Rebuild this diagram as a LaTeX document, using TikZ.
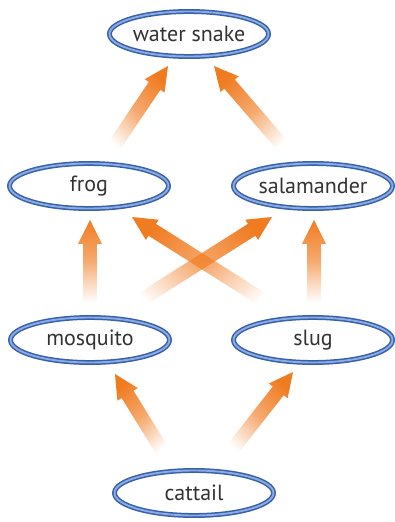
\documentclass[tikz,border=0pt]{standalone}
\usepackage{fontspec}
\setmainfont{PT Sans}
\usetikzlibrary{shapes.geometric,shadows,fadings,calc}
\definecolor{arrowor}{HTML}{F07C22}
\definecolor{ringdark}{HTML}{3460AC}
\definecolor{ringlight}{HTML}{8EABE0}
\definecolor{txt}{HTML}{333333}
\tikzfading[name=arrowfade, bottom color=transparent!100, top color=transparent!0, middle color=transparent!35]
\newcommand\fatarrow[2]{%
  \path let \p1=($(#2)-(#1)$), \n1={atan2(\y1,\x1)} in \pgfextra{\xdef\myang{\n1}};
  \pgfmathsetmacro\myrot{\myang-90}%
  \fill[arrowor, path fading=arrowfade, fading angle=\myrot]
    ($(#1)!7pt!90:(#2)$) -- ($($(#2)!24pt!(#1)$)!7pt!-90:(#1)$)
    -- ($($(#2)!24pt!(#1)$)!12pt!-90:(#1)$) -- (#2)
    -- ($($(#2)!24pt!(#1)$)!12pt!90:(#1)$) -- ($($(#2)!24pt!(#1)$)!7pt!90:(#1)$)
    -- ($(#1)!7pt!-90:(#2)$) -- cycle;
}
\tikzset{
  species/.style={ellipse, draw=ringdark, line width=1.5pt, double=ringlight,
    double distance=1.9pt, fill=white, minimum width=159pt, minimum height=45pt,
    inner sep=0pt, text=txt, font=\fontsize{22}{26}\selectfont,
    drop shadow={shadow xshift=0.8pt, shadow yshift=-2pt, opacity=0.4, fill=black!60}}
}
\begin{document}
\begin{tikzpicture}[x=1pt, y=-1pt]
\useasboundingbox (0,0) rectangle (395,522);
\node[species] (ws) at (189,34) {water snake};
\node[species] (frog) at (89,186) {frog};
\node[species] (sal) at (313,186) {salamander};
\node[species] (mos) at (90,340) {mosquito};
\node[species] (slug) at (313,340) {slug};
\node[species] (cat) at (194,493) {cattail};

\coordinate (t1) at (165,455); \coordinate (h1) at (115,374);
\coordinate (t2) at (228,455); \coordinate (h2) at (293,372);
\coordinate (t3) at (90,302);  \coordinate (h3) at (90,220);
\coordinate (t4) at (314,302); \coordinate (h4) at (314,220);
\coordinate (t5) at (276,308); \coordinate (h5) at (132,217);
\coordinate (t6) at (128,308); \coordinate (h6) at (272,217);
\coordinate (t7) at (110,152); \coordinate (h7) at (168,66);
\coordinate (t8) at (288,152); \coordinate (h8) at (214,66);

\fatarrow{t1}{h1}
\fatarrow{t2}{h2}
\fatarrow{t3}{h3}
\fatarrow{t4}{h4}
\fatarrow{t5}{h5}
\fatarrow{t6}{h6}
\fatarrow{t7}{h7}
\fatarrow{t8}{h8}
\end{tikzpicture}
\end{document}
